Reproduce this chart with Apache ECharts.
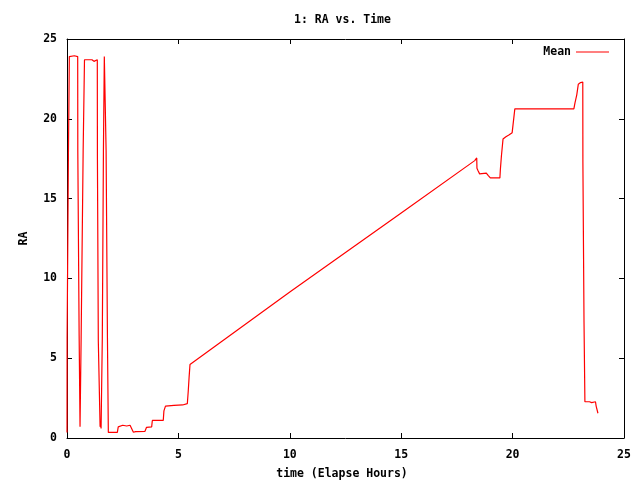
<!DOCTYPE html>
<html>
<head>
<meta charset="utf-8">
<script src="https://cdn.jsdelivr.net/npm/echarts@6/dist/echarts.min.js"></script>
<style>html,body{margin:0;padding:0;background:#fff}#c{width:640px;height:480px}</style>
</head>
<body>
<div id="c"></div>
<script>
const chartTitle = '1: RA vs. Time';
const xLabel = 'time (Elapse Hours)';
const yLabel = 'RA';
const seriesName = 'Mean';
const timeHours = [0.00,0.005,0.06,0.065,0.10,0.105,0.33,0.36,0.40,0.48,0.485,0.54,0.545,0.58,0.585,0.63,0.635,0.72,0.725,0.78,0.785,1.12,1.13,1.21,1.22,1.36,1.365,1.40,1.405,1.48,1.485,1.50,1.53,1.58,1.585,1.63,1.635,1.67,1.675,1.75,1.755,1.81,1.815,1.85,1.855,2.26,2.30,2.38,2.50,2.68,2.83,2.90,2.98,3.08,3.50,3.57,3.80,3.83,4.32,4.35,4.42,4.80,5.19,5.20,5.40,5.44,5.48,5.52,5.55,10.0,15.0,18.30,18.39,18.40,18.45,18.52,18.82,18.90,19.00,19.43,19.45,19.50,19.57,19.70,19.85,19.98,20.10,22.75,22.80,22.88,22.95,23.05,23.15,23.155,23.20,23.205,23.24,23.245,23.45,23.55,23.72,23.75,23.83];
const raMean = [0.35,6.3,6.3,18.0,18.0,23.9,23.95,24.0,23.95,23.9,18.0,18.0,6.4,6.4,0.7,0.75,6.3,6.3,18.0,18.0,23.7,23.7,23.6,23.6,23.7,23.7,17.7,17.7,6.1,6.1,0.7,0.9,0.6,0.7,6.3,6.3,18.0,18.0,23.9,23.9,18.0,18.0,6.3,6.3,0.35,0.35,0.7,0.77,0.8,0.75,0.8,0.75,0.36,0.4,0.42,0.67,0.7,1.1,1.1,1.7,2.0,2.05,2.07,2.15,2.15,2.9,3.8,4.6,4.72,9.15,14.1,17.38,17.55,16.9,16.75,16.55,16.6,16.45,16.3,16.3,16.8,17.7,18.73,18.88,19.0,19.13,20.62,20.62,21.0,21.5,22.17,22.27,22.3,17.3,17.3,7.3,7.3,2.27,2.27,2.22,2.27,2.0,1.55];
const xTicks = {min: 0, max: 25, interval: 5};
const yTicks = {min: 0, max: 25, interval: 5};

const font = 'DejaVu Sans Mono';
const fs = 11.5;
const chart = echarts.init(document.getElementById('c'), null, {renderer: 'canvas'});
const axisCommon = {
  axisLine: {show: true, onZero: false, lineStyle: {color: '#000', width: 1}},
  axisTick: {show: true, inside: true, length: 5, lineStyle: {color: '#000'}},
  splitLine: {show: false}
};
const txt = {fontFamily: font, fontSize: fs, fontWeight: 'bold', color: '#000'};
chart.setOption({
  animation: false,
  backgroundColor: '#fff',
  title: {text: chartTitle, left: 294, top: 14, padding: 0, textStyle: txt},
  legend: {data: [seriesName], right: 26, top: 41, align: 'right', icon: 'rect', itemWidth: 33, itemHeight: 1,
    itemGap: 8, textStyle: txt},
  grid: {left: 67, right: 16, top: 39, bottom: 42, containLabel: false, outerBoundsMode: 'none'},
  xAxis: [
    Object.assign({type: 'value', min: xTicks.min, max: xTicks.max, interval: xTicks.interval, position: 'bottom',
      axisLabel: Object.assign({margin: 11}, txt),
      name: xLabel, nameLocation: 'middle', nameGap: 30,
      nameTextStyle: Object.assign({padding: [0, 7, 0, 0]}, txt)}, axisCommon),
    Object.assign({type: 'value', min: xTicks.min, max: xTicks.max, interval: xTicks.interval, position: 'top',
      axisLabel: {show: false}}, axisCommon)
  ],
  yAxis: [
    Object.assign({type: 'value', min: yTicks.min, max: yTicks.max, interval: yTicks.interval, position: 'left',
      axisLabel: Object.assign({margin: 10}, txt),
      name: yLabel, nameLocation: 'middle', nameGap: 37, nameRotate: 90, nameTextStyle: txt}, axisCommon),
    Object.assign({type: 'value', min: yTicks.min, max: yTicks.max, interval: yTicks.interval, position: 'right',
      axisLabel: {show: false}}, axisCommon)
  ],
  series: [{
    name: seriesName, type: 'line', showSymbol: false, symbol: 'none',
    lineStyle: {color: '#ff0000', width: 1.2}, itemStyle: {color: '#ff0000'},
    data: timeHours.map((t, i) => [t, raMean[i]])
  }]
});
</script>
</body>
</html>
